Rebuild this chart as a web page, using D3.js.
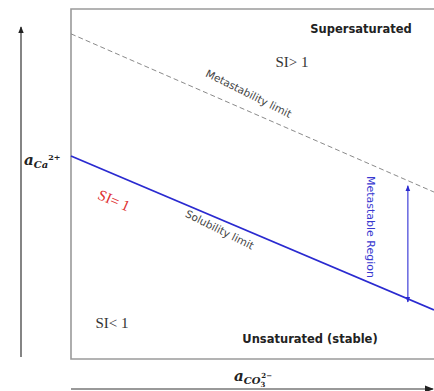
<!DOCTYPE html>
<html>
<head>
<meta charset="utf-8">
<script src="https://cdn.jsdelivr.net/npm/d3@7"></script>
<style>
body{margin:0;background:#fff;}
svg{display:block;}
</style>
</head>
<body>
<div id="chart"></div>
<script>
// schematic: activity of Ca2+ vs activity of CO3 2-
var xVals = [0, 1];
var metastability = [0.929, 0.477];
var solubility = [0.58, 0.14];
var regionX = 0.928;
var regionY = [0.495, 0.163];

var width = 434, height = 391;
var svg = d3.select('#chart').append('svg')
	.attr('width', width)
	.attr('height', height);

var xScale = d3.scaleLinear().domain([0,1]).range([71,434]);
var yScale = d3.scaleLinear().domain([0,1]).range([359,9]);

var defs = svg.append('defs');
function marker(id, color, size){
	defs.append('marker')
		.attr('id', id)
		.attr('viewBox', '0 0 10 10')
		.attr('refX', 9).attr('refY', 5)
		.attr('markerWidth', size).attr('markerHeight', size)
		.attr('orient', 'auto-start-reverse')
		.append('path')
		.attr('d', 'M0,1L10,5L0,9Z')
		.attr('fill', color);
}
marker('arrBlack', '#222', 6);
marker('arrBlue', '#2a2ad0', 5);

// frame
svg.append('path')
	.attr('d', 'M' + (width + 2) + ',' + yScale(1) + 'H' + xScale(0) + 'V' + yScale(0) + 'H' + (width + 2))
	.attr('fill', 'none')
	.attr('stroke', '#9a9a9a')
	.attr('stroke-width', 1.6);

// outer axes with arrows
svg.append('line')
	.attr('x1', 21).attr('y1', 357).attr('x2', 21).attr('y2', 27)
	.attr('stroke', '#333').attr('stroke-width', 1.2)
	.attr('marker-end', 'url(#arrBlack)');
svg.append('line')
	.attr('x1', 71).attr('y1', 389).attr('x2', 433).attr('y2', 389)
	.attr('stroke', '#777').attr('stroke-width', 1.5)
	.attr('marker-end', 'url(#arrBlack)');

var line = d3.line()
	.x(function(d,i){ return xScale(xVals[i]); })
	.y(function(d){ return yScale(d); });

svg.append('path')
	.attr('d', line(metastability))
	.attr('fill', 'none')
	.attr('stroke', '#8a8a8a')
	.attr('stroke-width', 1)
	.attr('stroke-dasharray', '5,3');

svg.append('path')
	.attr('d', line(solubility))
	.attr('fill', 'none')
	.attr('stroke', '#2a2ad0')
	.attr('stroke-width', 1.8);

// metastable region arrow
svg.append('line')
	.attr('x1', xScale(regionX)).attr('y1', yScale(regionY[0]))
	.attr('x2', xScale(regionX)).attr('y2', yScale(regionY[1]))
	.attr('stroke', '#4040d8').attr('stroke-width', 1.2)
	.attr('marker-start', 'url(#arrBlue)')
	.attr('marker-end', 'url(#arrBlue)');

var angle = Math.atan2(yScale(metastability[1]) - yScale(metastability[0]), xScale(1) - xScale(0)) * 180 / Math.PI;

function label(txt, x, y, opts){
	var t = svg.append('text')
		.attr('x', x).attr('y', y)
		.attr('text-anchor', opts.anchor || 'start')
		.style('font-family', opts.family || 'DejaVu Sans, Verdana, sans-serif')
		.style('font-size', opts.size || '9px')
		.style('font-weight', opts.weight || 'normal')
		.attr('fill', opts.color || '#333')
		.text(txt);
	if(opts.rotate) t.attr('transform', 'rotate(' + opts.rotate + ',' + x + ',' + y + ')');
	return t;
}

var serif = 'Liberation Serif, Times New Roman, serif';
label('Supersaturated', 361, 33, {anchor:'middle', weight:'bold', size:'11.5px', color:'#222'});
label('SI> 1', 292, 67, {anchor:'middle', family:serif, size:'15px', color:'#333'});
label('Metastability limit', 247, 97, {anchor:'middle', rotate: angle + 3, size:'10.5px', color:'#444'});
label('SI= 1', 112, 205, {anchor:'middle', family:serif, size:'15px', color:'#e03030', rotate: angle});
label('Solubility limit', 218, 233, {anchor:'middle', rotate: angle + 3, size:'10.5px', color:'#444'});
label('Metastable Region', 367, 227, {anchor:'middle', rotate: 90, size:'11px', color:'#3838d0'});
label('SI< 1', 112, 328, {anchor:'middle', family:serif, size:'15px', color:'#333'});
label('Unsaturated (stable)', 310, 343, {anchor:'middle', weight:'bold', size:'11.5px', color:'#222'});

// axis titles with sub/superscripts
var yt = svg.append('text')
	.attr('x', 24).attr('y', 165)
	.style('font-family', 'DejaVu Serif, serif')
	.style('font-style', 'italic')
	.style('font-weight', 'bold')
	.style('font-size', '15px')
	.attr('fill', '#222');
yt.append('tspan').text('a');
yt.append('tspan').attr('dy', 3).style('font-size', '10px').text('Ca');
yt.append('tspan').attr('dy', -8).style('font-size', '8px').style('font-style','normal').text('2+');

var xt = svg.append('text')
	.attr('x', 234).attr('y', 381)
	.style('font-family', 'DejaVu Serif, serif')
	.style('font-style', 'italic')
	.style('font-weight', 'bold')
	.style('font-size', '15px')
	.attr('fill', '#222');
xt.append('tspan').text('a');
xt.append('tspan').attr('dy', 3).style('font-size', '10px').text('CO');
xt.append('tspan').attr('dy', 3).style('font-size', '7px').style('font-style','normal').text('3');
xt.append('tspan').attr('dy', -9).attr('dx', -4).style('font-size', '7px').style('font-style','normal').text('2\u2212');
</script>
</body>
</html>
